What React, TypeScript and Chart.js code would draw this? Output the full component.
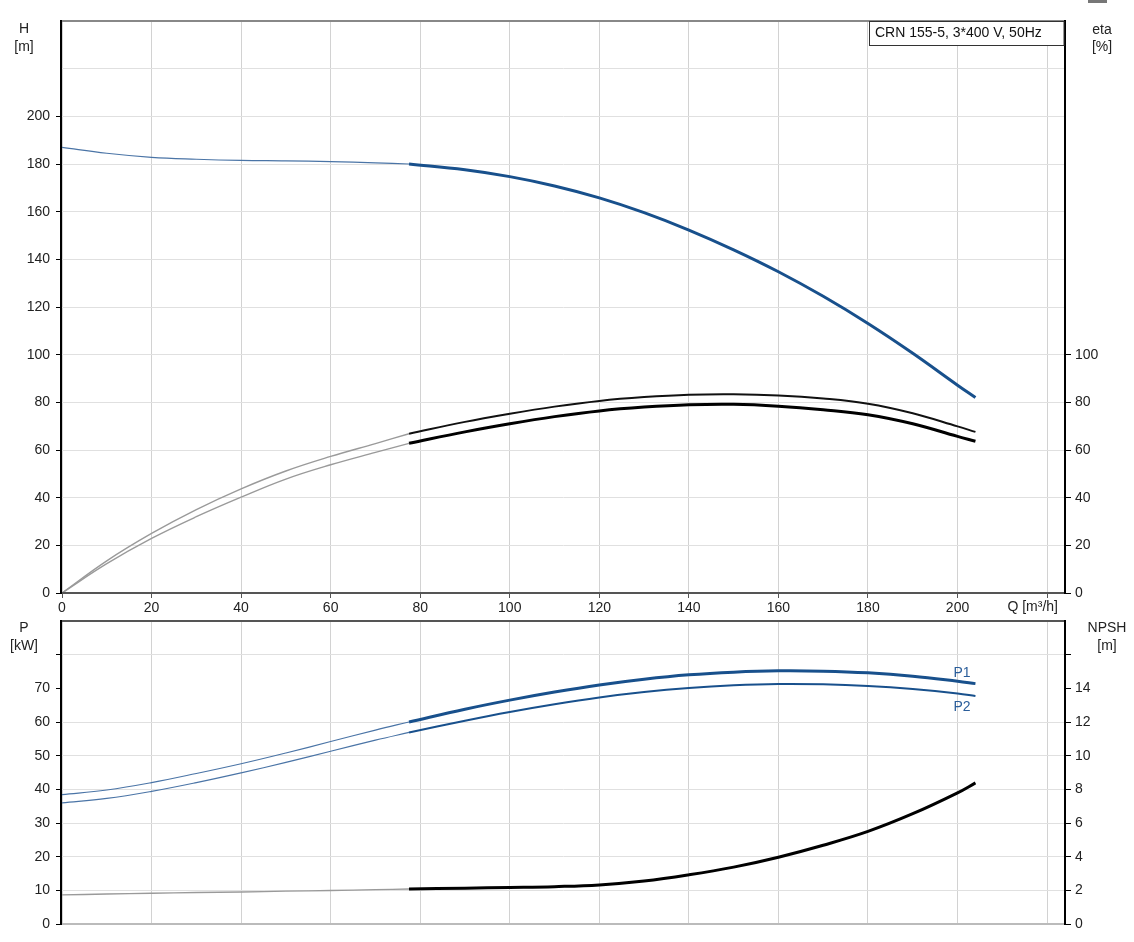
import React, { useEffect, useRef } from 'react';
import { Chart, registerables } from 'chart.js';
Chart.register(...registerables);

const FONT = "'Liberation Sans', Arial, sans-serif";

const qThin = [0, 10, 20, 30, 40, 50, 60, 70, 77.5];
const qThick = [77.5, 90, 100, 110, 120, 130, 140, 150, 160, 170, 180, 190, 200, 204];

const headThin = [187, 184.5, 182.8, 182.0, 181.5, 181.3, 181.0, 180.5, 180.0];
const headThick = [180.0, 177.6, 174.7, 170.8, 165.8, 159.6, 152.3, 144.0, 134.8, 124.5, 113.1, 100.6, 87.2, 82.0];

const etaUpThin = [0, 13.5, 25.0, 35.0, 43.7, 51.2, 57.3, 62.7, 66.8];
const etaUpThick = [66.8, 71.8, 75.2, 78.2, 80.6, 82.2, 83.2, 83.4, 82.9, 81.6, 79.4, 75.4, 69.9, 67.6];
const etaLoThin = [0, 12.3, 22.9, 32.0, 40.2, 47.8, 53.8, 59.0, 62.8];
const etaLoThick = [62.8, 67.6, 71.0, 74.0, 76.4, 78.0, 79.0, 79.2, 78.4, 76.9, 74.8, 71.0, 65.7, 63.7];

const p1Thin = [38.4, 39.8, 42.0, 44.7, 47.6, 50.8, 54.2, 57.6, 60.0];
const p1Thick = [60.0, 63.8, 66.5, 68.9, 71.0, 72.7, 74.0, 74.8, 75.2, 75.1, 74.6, 73.6, 72.1, 71.4];
const p2Thin = [36.0, 37.3, 39.4, 42.0, 44.9, 48.0, 51.3, 54.6, 56.9];
const p2Thick = [56.9, 60.4, 63.0, 65.3, 67.3, 68.9, 70.1, 70.9, 71.3, 71.2, 70.7, 69.8, 68.5, 67.7];

const npshThin = [1.73, 1.78, 1.83, 1.87, 1.90, 1.95, 1.99, 2.04, 2.08];
const npshThick = [2.08, 2.13, 2.17, 2.22, 2.32, 2.55, 2.92, 3.38, 3.97, 4.68, 5.50, 6.55, 7.79, 8.38];

const xTicksMax = 200;
const hLabelMax = 200;
const etaLabelMax = 100;
const pLabelMax = 70;
const pTickMax = 80;
const pGridSkip = [70];
const npshLabelMax = 14;
const npshTickMax = 16;

const curveLabels = [
  { text: 'P1', q: 201, p: 74.5 },
  { text: 'P2', q: 201, p: 64.4 },
];

const title = 'CRN 155-5, 3*400 V, 50Hz';

function pts(q: number[], v: number[]) {
  return q.map((x, i) => ({ x, y: v[i] }));
}

const BLUE = '#18508c';
const BLUE_THIN = '#4a74a6';
const GREY_THIN = '#9a9a9a';

function line(data: any, color: string, width: number, yAxisID: string) {
  return {
    data,
    borderColor: color,
    borderWidth: width,
    pointRadius: 0,
    fill: false,
    tension: 0.4,
    yAxisID,
  };
}

const tickFont = { family: FONT, size: 14 };

const topPlugin = {
  id: 'topFrame',
  afterDraw(chart: any) {
    const { ctx, chartArea: a } = chart;
    ctx.save();
    ctx.fillStyle = '#888';
    ctx.fillRect(a.left, a.top - 1, a.right - a.left, 2);
    ctx.fillStyle = '#555';
    ctx.fillRect(a.left, a.bottom - 1, a.right - a.left, 2);
    ctx.fillStyle = '#000';
    ctx.fillRect(a.left - 2, a.top - 1, 2, a.bottom - a.top + 2);
    ctx.fillRect(a.right - 1, a.top - 1, 2, a.bottom - a.top + 2);
    ctx.fillStyle = '#fff';
    ctx.fillRect(869.5, a.top, a.right - 1 - 869.5, 24);
    ctx.strokeStyle = '#333';
    ctx.lineWidth = 1;
    ctx.strokeRect(869.5, a.top + 0.5, a.right - 1 - 869.5, 24);
    ctx.font = `14px ${FONT}`;
    ctx.fillStyle = '#111';
    ctx.textAlign = 'left';
    ctx.textBaseline = 'middle';
    ctx.fillText(title, 875, a.top + 12);
    ctx.fillStyle = '#222';
    ctx.textAlign = 'center';
    ctx.fillText('H', 24, 29);
    ctx.fillText('[m]', 24, 47);
    ctx.fillText('eta', 1102, 30);
    ctx.fillText('[%]', 1102, 47);
    ctx.textAlign = 'right';
    ctx.fillText('Q [m³/h]', 1058, 607);
    ctx.fillStyle = '#777';
    ctx.fillRect(1088, 0, 19, 3);
    ctx.restore();
  },
};

const bottomPlugin = {
  id: 'bottomFrame',
  afterDraw(chart: any) {
    const { ctx, chartArea: a, scales } = chart;
    ctx.save();
    ctx.fillStyle = '#555';
    ctx.fillRect(a.left, a.top - 1, a.right - a.left, 2);
    ctx.fillStyle = '#bbb';
    ctx.fillRect(a.left, a.bottom - 1, a.right - a.left, 2);
    ctx.fillStyle = '#000';
    ctx.fillRect(a.left - 2, a.top - 1, 2, a.bottom - a.top + 2);
    ctx.fillRect(a.right - 1, a.top - 1, 2, a.bottom - a.top + 2);
    ctx.font = `14px ${FONT}`;
    ctx.fillStyle = '#222';
    ctx.textAlign = 'center';
    ctx.textBaseline = 'middle';
    ctx.fillText('P', 24, 28);
    ctx.fillText('[kW]', 24, 46);
    ctx.fillText('NPSH', 1107, 28);
    ctx.fillText('[m]', 1107, 46);
    ctx.fillStyle = '#2a5d9a';
    for (const l of curveLabels) {
      ctx.fillText(l.text, scales.x.getPixelForValue(l.q), scales.p.getPixelForValue(l.p));
    }
    ctx.restore();
  },
};

export default function App() {
  const topRef = useRef<HTMLCanvasElement>(null);
  const botRef = useRef<HTMLCanvasElement>(null);

  useEffect(() => {
    const top = new Chart(topRef.current!, {
      type: 'line',
      data: {
        datasets: [
          line(pts(qThin, headThin), BLUE_THIN, 1.2, 'h'),
          line(pts(qThick, headThick), BLUE, 3, 'h'),
          line(pts(qThin, etaUpThin), GREY_THIN, 1.4, 'eta'),
          line(pts(qThick, etaUpThick), '#111', 2, 'eta'),
          line(pts(qThin, etaLoThin), GREY_THIN, 1.4, 'eta'),
          line(pts(qThick, etaLoThick), '#000', 3, 'eta'),
        ],
      },
      options: {
        animation: false,
        responsive: false,
        events: [],
        layout: { padding: { top: 21, left: 0, right: 0, bottom: 0 } },
        plugins: { legend: { display: false }, tooltip: { enabled: false } },
        scales: {
          x: {
            type: 'linear',
            min: 0,
            max: 224,
            afterFit: (s: any) => { s.height = 27; },
            border: { display: false },
            grid: {
              color: '#d2d2d2',
              lineWidth: 1,
              drawTicks: true,
              tickLength: 5,
              tickColor: '#555',
            },
            ticks: {
              stepSize: 20,
              includeBounds: false,
              padding: 2,
              maxRotation: 0,
              autoSkip: false,
              color: '#222',
              font: tickFont,
              callback: (v: any) => (v <= xTicksMax ? v : ''),
            },
          },
          h: {
            type: 'linear',
            position: 'left',
            min: 0,
            max: 240,
            afterFit: (s: any) => { s.width = 62; },
            border: { display: false },
            grid: {
              color: '#e0e0e0',
              lineWidth: 1,
              tickLength: 6,
              tickColor: (c: any) => (c.tick && c.tick.value <= hLabelMax ? '#000' : 'rgba(0,0,0,0)'),
            },
            ticks: {
              stepSize: 20,
              padding: 6,
              color: '#222',
              font: tickFont,
              callback: (v: any) => (v <= hLabelMax ? v : ''),
            },
          },
          eta: {
            type: 'linear',
            position: 'right',
            min: 0,
            max: 240,
            afterFit: (s: any) => { s.width = 69; },
            border: { display: false },
            grid: {
              drawOnChartArea: false,
              tickLength: 6,
              tickColor: (c: any) => (c.tick && c.tick.value <= etaLabelMax ? '#000' : 'rgba(0,0,0,0)'),
            },
            ticks: {
              stepSize: 20,
              padding: 4,
              color: '#222',
              font: tickFont,
              callback: (v: any) => (v <= etaLabelMax ? v : ''),
            },
          },
        },
      } as any,
      plugins: [topPlugin],
    });

    const bot = new Chart(botRef.current!, {
      type: 'line',
      data: {
        datasets: [
          line(pts(qThin, p1Thin), BLUE_THIN, 1.2, 'p'),
          line(pts(qThick, p1Thick), BLUE, 3, 'p'),
          line(pts(qThin, p2Thin), BLUE_THIN, 1.2, 'p'),
          line(pts(qThick, p2Thick), BLUE, 2, 'p'),
          line(pts(qThin, npshThin), GREY_THIN, 1.4, 'npsh'),
          line(pts(qThick, npshThick), '#000', 3, 'npsh'),
        ],
      },
      options: {
        animation: false,
        responsive: false,
        events: [],
        layout: { padding: { top: 21, left: 0, right: 0, bottom: 0 } },
        plugins: { legend: { display: false }, tooltip: { enabled: false } },
        scales: {
          x: {
            type: 'linear',
            min: 0,
            max: 224,
            afterFit: (s: any) => { s.height = 18; },
            border: { display: false },
            grid: { color: '#d2d2d2', lineWidth: 1, drawTicks: false },
            ticks: { stepSize: 20, includeBounds: false, display: false },
          },
          p: {
            type: 'linear',
            position: 'left',
            min: 0,
            max: 90,
            afterFit: (s: any) => { s.width = 62; },
            border: { display: false },
            grid: {
              color: (c: any) => (c.tick && pGridSkip.includes(c.tick.value) ? 'rgba(0,0,0,0)' : '#e0e0e0'),
              lineWidth: 1,
              tickLength: 6,
              tickColor: (c: any) => (c.tick && c.tick.value <= pTickMax ? '#000' : 'rgba(0,0,0,0)'),
            },
            ticks: {
              stepSize: 10,
              padding: 6,
              color: '#222',
              font: tickFont,
              callback: (v: any) => (v <= pLabelMax ? v : ''),
            },
          },
          npsh: {
            type: 'linear',
            position: 'right',
            min: 0,
            max: 18,
            afterFit: (s: any) => { s.width = 69; },
            border: { display: false },
            grid: {
              drawOnChartArea: false,
              tickLength: 6,
              tickColor: (c: any) => (c.tick && c.tick.value <= npshTickMax ? '#000' : 'rgba(0,0,0,0)'),
            },
            ticks: {
              stepSize: 2,
              padding: 4,
              color: '#222',
              font: tickFont,
              callback: (v: any) => (v <= npshLabelMax ? v : ''),
            },
          },
        },
      } as any,
      plugins: [bottomPlugin],
    });

    return () => {
      top.destroy();
      bot.destroy();
    };
  }, []);

  return (
    <div style={{ position: 'absolute', left: 0, top: 0, width: 1134, height: 942, background: '#fff' }}>
      <canvas
        ref={topRef}
        width={1134}
        height={620}
        style={{ position: 'absolute', left: 0, top: 0, width: 1134, height: 620 }}
      />
      <canvas
        ref={botRef}
        width={1134}
        height={342}
        style={{ position: 'absolute', left: 0, top: 600, width: 1134, height: 342 }}
      />
    </div>
  );
}
